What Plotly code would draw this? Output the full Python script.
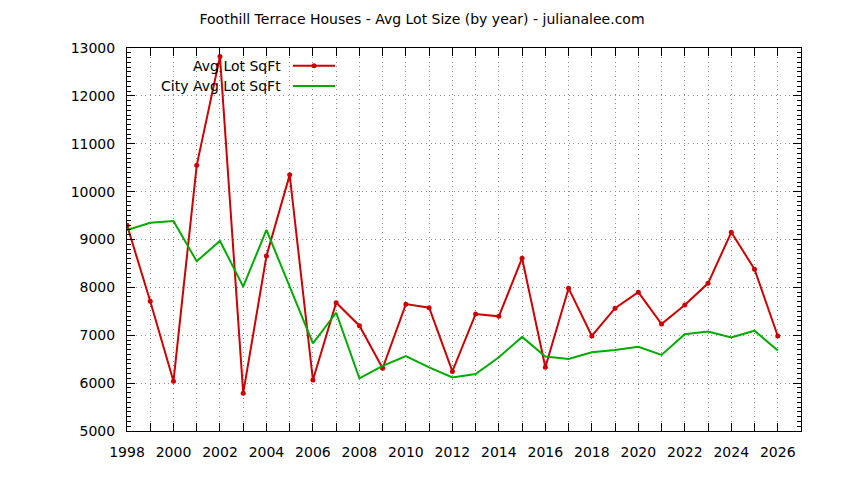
import plotly.graph_objects as go

years = list(range(1998, 2027))
avg_lot = [9300, 7710, 6040, 10550, 12820, 5790, 8655, 10350, 6065, 7680,
           7200, 6310, 7650, 7575, 6245, 7445, 7395, 8610, 6330, 7980,
           6985, 7565, 7900, 7235, 7630, 8085, 9150, 8380, 6985]
city_avg_lot = [9200, 9350, 9385, 8545, 8970, 8015, 9200, 8015, 6830, 7470,
                6100, 6360, 6565, 6330, 6120, 6190, 6540, 6965, 6555, 6505,
                6645, 6690, 6760, 6590, 7020, 7080, 6955, 7095, 6680]
x_tick_vals = list(range(1998, 2027, 2))
y_tick_vals = list(range(5000, 13001, 1000))

RED = "#cc0000"
GREEN = "#00aa00"
FONT = "DejaVu Sans"
GRID = "#8c8c8c"
DASH = "1px,3.6px"

# page offset of the plot div (default body margin)
OFF = 8
W, H = 844 - OFF, 480 - OFF
# desired plot area in page pixels: x 127..801, y 48..431
L, T = 127 - OFF, 48 - OFF
R = (W + OFF) - 801
B = (H + OFF) - 431
pw, ph = W - L - R, H - T - B


def px_x(p):
    return (p - OFF - L) / pw


def px_y(p):
    return (H - B - (p - OFF)) / ph


fig = go.Figure()
fig.add_trace(go.Scatter(x=years, y=avg_lot, mode="lines+markers",
                         line=dict(color=RED, width=2),
                         marker=dict(color=RED, size=5, symbol="circle"),
                         name="Avg Lot SqFt", showlegend=False))
fig.add_trace(go.Scatter(x=years, y=city_avg_lot, mode="lines",
                         line=dict(color=GREEN, width=2),
                         name="City Avg Lot SqFt", showlegend=False))

legend_rows = [("Avg Lot SqFt", RED, True, 65.7), ("City Avg Lot SqFt", GREEN, False, 86)]
for text, col, mk, yy in legend_rows:
    fig.add_annotation(x=px_x(283), y=px_y(yy), xref="paper", yref="paper",
                       text=text, showarrow=False, xanchor="right", yanchor="middle",
                       font=dict(family=FONT, size=14, color="black"))
    fig.add_shape(type="line", xref="paper", yref="paper",
                  x0=px_x(293), x1=px_x(335), y0=px_y(yy), y1=px_y(yy),
                  line=dict(color=col, width=2))
    if mk:
        fig.add_shape(type="circle", xref="paper", yref="paper",
                      x0=px_x(311.5), x1=px_x(316.5), y0=px_y(yy + 2.5), y1=px_y(yy - 2.5),
                      fillcolor=col, line=dict(color=col, width=0))

fig.update_layout(
    width=W, height=H,
    margin=dict(l=L, r=R, t=T, b=B),
    paper_bgcolor="white", plot_bgcolor="white",
    font=dict(family=FONT, size=14, color="black"),
    title=dict(text="Foothill Terrace Houses - Avg Lot Size (by year) - julianalee.com",
               x=(422 - OFF) / W, xanchor="center", y=1 - (19 - OFF) / H, yanchor="middle",
               font=dict(family=FONT, size=14, color="black")),
    showlegend=False,
)
fig.update_xaxes(
    range=[1998, 2027], tickmode="array", tickvals=x_tick_vals,
    ticktext=[str(v) for v in x_tick_vals],
    tickfont=dict(family=FONT, size=14),
    showline=True, linecolor="black", linewidth=1, mirror="allticks",
    ticks="inside", ticklen=8, tickcolor="black", tickwidth=1,
    ticklabelstandoff=8,
    showgrid=True, gridcolor=GRID, griddash=DASH, gridwidth=1,
    minor=dict(dtick=1, tick0=1998, ticks="inside", ticklen=8, tickcolor="black",
               showgrid=True, gridcolor=GRID, griddash=DASH, gridwidth=1),
    zeroline=False,
)
fig.update_yaxes(
    range=[5000, 13000], tickmode="array", tickvals=y_tick_vals,
    ticktext=[str(v) for v in y_tick_vals],
    tickfont=dict(family=FONT, size=14),
    showline=True, linecolor="black", linewidth=1, mirror="allticks",
    ticks="inside", ticklen=8, tickcolor="black", tickwidth=1,
    ticklabelstandoff=8,
    showgrid=True, gridcolor=GRID, griddash=DASH, gridwidth=1,
    minor=dict(dtick=100, tick0=5000, ticks="inside", ticklen=4, tickcolor="black",
               showgrid=False),
    zeroline=False,
)

fig.write_html("out.html")
